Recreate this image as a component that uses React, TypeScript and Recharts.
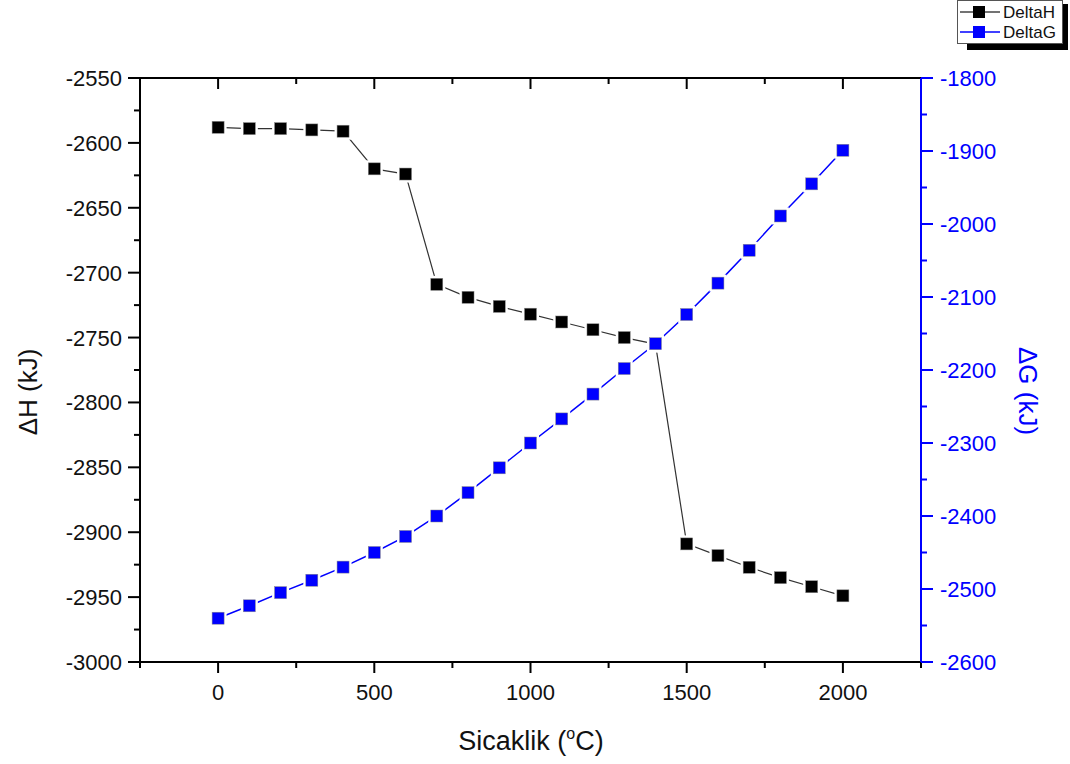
import React from 'react';
import { LineChart, Line, XAxis, YAxis, Legend, ReferenceLine } from 'recharts';

const temps = [0, 100, 200, 300, 400, 500, 600, 700, 800, 900, 1000, 1100, 1200, 1300, 1400, 1500, 1600, 1700, 1800, 1900, 2000];
const deltaH = [-2588, -2589, -2589, -2590, -2591, -2620, -2624, -2709, -2719, -2726, -2732, -2738, -2744, -2750, -2755, -2909, -2918, -2927, -2935, -2942, -2949];
const deltaG = [-2540, -2523, -2505, -2488, -2470, -2450, -2428, -2400, -2368, -2334, -2300, -2267, -2233, -2198, -2164, -2124, -2081, -2036, -1989, -1945, -1899];

const xTicks = [-250, 0, 250, 500, 750, 1000, 1250, 1500, 1750, 2000, 2250];
const xLabels = [0, 500, 1000, 1500, 2000];
const topTicks = [0, 250, 500, 750, 1000, 1250, 1500, 1750, 2000];
const hTicks = [-3000, -2975, -2950, -2925, -2900, -2875, -2850, -2825, -2800, -2775, -2750, -2725, -2700, -2675, -2650, -2625, -2600, -2575, -2550];
const hLabels = [-3000, -2950, -2900, -2850, -2800, -2750, -2700, -2650, -2600, -2550];
const gTicks = [-2600, -2550, -2500, -2450, -2400, -2350, -2300, -2250, -2200, -2150, -2100, -2050, -2000, -1950, -1900, -1850, -1800];
const gLabels = [-2600, -2500, -2400, -2300, -2200, -2100, -2000, -1900, -1800];
const seriesNames = ['DeltaH', 'DeltaG'];

const data = temps.map((t, i) => ({ t, deltaH: deltaH[i], deltaG: deltaG[i] }));

const FONT = '"Liberation Sans", Arial, sans-serif';
const BLUE = '#0000ff';

const BottomTick = (props: any) => {
    const { x, y, payload } = props;
    const major = xLabels.includes(payload.value);
    return (
        <g>
            <line x1={x} x2={x} y1={y} y2={y + (major ? 11 : 6)} stroke="#000" strokeWidth={2} />
            {major && (
                <text x={x} y={y + 38} textAnchor="middle" fontSize={22} fontFamily={FONT} fill="#111">
                    {payload.value}
                </text>
            )}
        </g>
    );
};

const LeftTick = (props: any) => {
    const { x, y, payload } = props;
    const major = hLabels.includes(payload.value);
    return (
        <g>
            <line x1={x - (major ? 12 : 6)} x2={x} y1={y} y2={y} stroke="#000" strokeWidth={2} />
            {major && (
                <text x={x - 18} y={y + 8} textAnchor="end" fontSize={22} fontFamily={FONT} fill="#111">
                    {payload.value}
                </text>
            )}
        </g>
    );
};

const RightTick = (props: any) => {
    const { x, y, payload } = props;
    const major = gLabels.includes(payload.value);
    return (
        <g>
            <line x1={x} x2={x + (major ? 12 : 6)} y1={y} y2={y} stroke={BLUE} strokeWidth={2} />
            {major && (
                <text x={x + 19} y={y + 8} textAnchor="start" fontSize={22} fontFamily={FONT} fill={BLUE}>
                    {payload.value}
                </text>
            )}
        </g>
    );
};

// short inward tick hanging from the top frame
const TopTickShape = (props: any) => {
    const { x1, y1, y2, major } = props;
    const top = Math.min(y1, y2);
    return <line x1={x1} x2={x1} y1={top} y2={top + (major ? 11 : 6)} stroke="#000" strokeWidth={2} />;
};

// square marker with a white halo so the line stops short of it
const SquareDot = (props: any) => {
    const { cx, cy, fill } = props;
    if (cx == null || cy == null) return <g />;
    return (
        <g>
            <rect x={cx - 8.5} y={cy - 8.5} width={17} height={17} fill="#fff" />
            <rect x={cx - 6} y={cy - 6} width={12} height={12} fill={fill} stroke="#888" strokeWidth={0.5} />
        </g>
    );
};

const XTitle = () => (
    <text x={531} y={750} textAnchor="middle" fontSize={27} fontFamily={FONT} fill="#111">
        Sicaklik (
        <tspan dy={-11} fontSize={16}>o</tspan>
        <tspan dy={11}>C)</tspan>
    </text>
);

const YTitle = (props: any) => {
    const { px, py, rot, color, text } = props;
    return (
        <text
            x={px}
            y={py}
            transform={`rotate(${rot} ${px} ${py})`}
            textAnchor="middle"
            dominantBaseline="central"
            fontSize={26}
            fontFamily={FONT}
            fill={color}
        >
            {text}
        </text>
    );
};

const LegendBox = () => {
    const colors = [
        { line: '#444', fill: '#000' },
        { line: BLUE, fill: BLUE },
    ];
    return (
        <svg width={112} height={51} style={{ display: 'block' }}>
            <rect x={10} y={4} width={101} height={46} fill="#000" />
            <rect x={0.5} y={0.5} width={105} height={43} fill="#fff" stroke="#555" strokeWidth={1} />
            {seriesNames.map((name, i) => {
                const cy = 12 + i * 20;
                return (
                    <g key={name}>
                        <line x1={3} x2={43} y1={cy} y2={cy} stroke={colors[i].line} strokeWidth={1.5} />
                        <rect x={16} y={cy - 6} width={12} height={12} fill={colors[i].fill} />
                        <text x={46} y={cy + 6} fontSize={17} fontFamily={FONT} fill="#111">
                            {name}
                        </text>
                    </g>
                );
            })}
        </svg>
    );
};

const App = () => {
    return (
        <div style={{ position: 'absolute', left: 0, top: 0, width: 1070, height: 764, background: '#fff' }}>
            <LineChart width={1070} height={764} data={data} margin={{ top: 78, right: 0, bottom: 0, left: 0 }}>
                <XAxis
                    dataKey="t"
                    type="number"
                    domain={[-250, 2250]}
                    ticks={xTicks}
                    interval={0}
                    height={102}
                    tickSize={0}
                    tickMargin={0}
                    tickLine={false}
                    tick={<BottomTick />}
                    axisLine={{ stroke: '#000', strokeWidth: 2 }}
                    label={<XTitle />}
                />
                <YAxis
                    yAxisId="left"
                    type="number"
                    domain={[-3000, -2550]}
                    ticks={hTicks}
                    interval={0}
                    width={140}
                    tickSize={0}
                    tickMargin={0}
                    tickLine={false}
                    tick={<LeftTick />}
                    axisLine={{ stroke: '#000', strokeWidth: 2 }}
                    label={<YTitle px={28} py={392} rot={-90} color="#111" text="ΔH (kJ)" />}
                />
                <YAxis
                    yAxisId="right"
                    orientation="right"
                    type="number"
                    domain={[-2600, -1800]}
                    ticks={gTicks}
                    interval={0}
                    width={149}
                    tickSize={0}
                    tickMargin={0}
                    tickLine={false}
                    tick={<RightTick />}
                    axisLine={{ stroke: BLUE, strokeWidth: 2 }}
                    label={<YTitle px={1028} py={391} rot={90} color={BLUE} text="ΔG (kJ)" />}
                />
                <ReferenceLine yAxisId="left" y={-2550} stroke="#000" strokeWidth={2} ifOverflow="visible" />
                {topTicks.map((v) => (
                    <ReferenceLine
                        key={`tt${v}`}
                        yAxisId="left"
                        x={v}
                        ifOverflow="visible"
                        shape={(p: any) => <TopTickShape {...p} major={xLabels.includes(v)} />}
                    />
                ))}
                <Legend
                    layout="horizontal"
                    verticalAlign="middle"
                    align="center"
                    wrapperStyle={{ top: 0, left: 957, width: 112, height: 51 }}
                    content={<LegendBox />}
                />
                <Line
                    yAxisId="left"
                    dataKey="deltaH"
                    name="DeltaH"
                    stroke="#333"
                    strokeWidth={1.2}
                    dot={(p: any) => <SquareDot key={`h${p.index}`} cx={p.cx} cy={p.cy} fill="#000" />}
                    activeDot={false}
                    isAnimationActive={false}
                />
                <Line
                    yAxisId="right"
                    dataKey="deltaG"
                    name="DeltaG"
                    stroke={BLUE}
                    strokeWidth={1.5}
                    dot={(p: any) => <SquareDot key={`g${p.index}`} cx={p.cx} cy={p.cy} fill={BLUE} />}
                    activeDot={false}
                    isAnimationActive={false}
                />
            </LineChart>
        </div>
    );
};

export default App;
